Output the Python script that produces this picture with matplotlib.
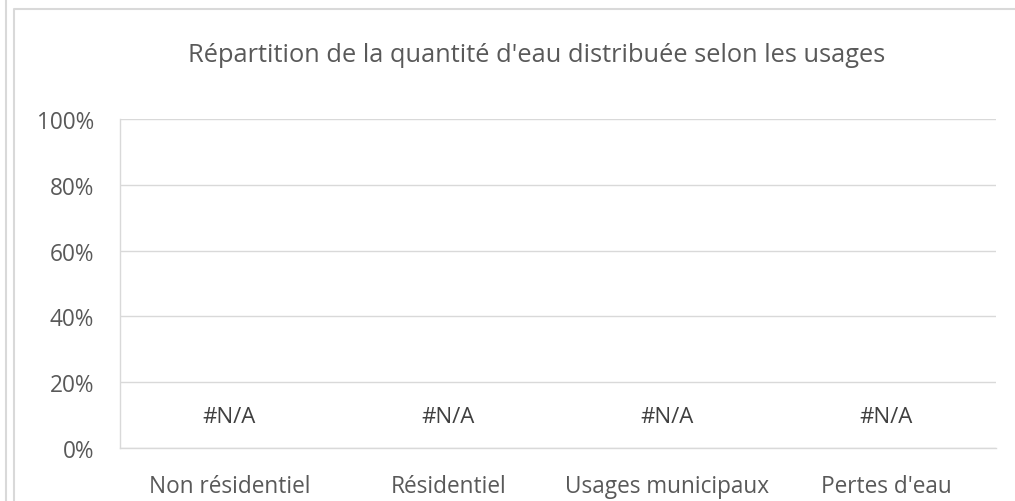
import matplotlib.pyplot as plt
import numpy as np
from matplotlib.lines import Line2D
from matplotlib.ticker import PercentFormatter

# Data: every value is missing (#N/A in the source sheet)
categories = ['Non résidentiel', 'Résidentiel', 'Usages municipaux', "Pertes d'eau"]
values = [np.nan, np.nan, np.nan, np.nan]
value_labels = ['#N/A', '#N/A', '#N/A', '#N/A']
yticks = [0, 0.2, 0.4, 0.6, 0.8, 1.0]

plt.rcParams['font.family'] = ['Open Sans', 'DejaVu Sans']

W, H = 1015, 502
fig = plt.figure(figsize=(W / 100, H / 100), dpi=100)
ax = fig.add_axes([120 / W, 53 / H, 876 / W, 329 / H])

x = np.arange(len(categories))
ax.bar(x, values, width=0.6, color='#4472c4')

for xi, lab in zip(x, value_labels):
    ax.annotate(lab, (xi, 0), xytext=(0, 22.5), textcoords='offset points',
                ha='center', va='center', fontsize=16, color='#404040')

ax.set_xlim(-0.5, len(categories) - 0.5)
ax.set_ylim(0, 1)
ax.set_yticks(yticks)
ax.yaxis.set_major_formatter(PercentFormatter(1.0, decimals=0))
ax.set_xticks(x)
ax.set_xticklabels(categories)
ax.tick_params(axis='both', length=0, labelsize=16.3, colors='#595959')
ax.tick_params(axis='y', pad=18.5)
ax.tick_params(axis='x', pad=18.5)
ax.grid(axis='y', color='#d9d9d9', linewidth=1)
ax.set_axisbelow(True)
for side in ['top', 'right']:
    ax.spines[side].set_visible(False)
for side in ['left', 'bottom']:
    ax.spines[side].set_color('#d9d9d9')
    ax.spines[side].set_linewidth(1)

fig.text(537 / W, 1 - 55 / H, "Répartition de la quantité d'eau distribuée selon les usages",
         ha='center', va='center', fontsize=18.3, color='#595959')

# chart frame lines
fig.add_artist(Line2D([6 / W, 6 / W], [-0.01, 1.01], transform=fig.transFigure,
                      color='#d9d9d9', linewidth=1.5))
fig.add_artist(Line2D([13.5 / W, 13.5 / W, 1.01], [-0.01, 1 - 10 / H, 1 - 10 / H],
                      transform=fig.transFigure, color='#d9d9d9', linewidth=1.5))

fig.savefig('out.png', dpi=100)
